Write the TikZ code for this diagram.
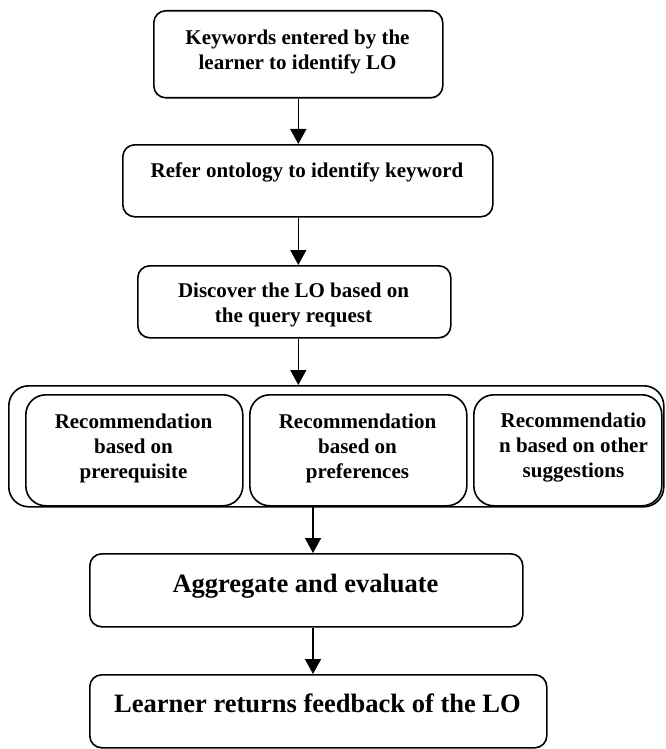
\documentclass[tikz,border=0pt]{standalone}
\usepackage{fontspec}
\setmainfont{Liberation Serif}
\usetikzlibrary{arrows.meta,calc}
\begin{document}
\begin{tikzpicture}[x=1pt,y=-1pt,
  box/.style={draw,fill=white,line width=1.6pt,rounded corners=12pt,rectangle,anchor=north west,inner sep=0pt},
  rbox/.style={box,rounded corners=20pt},
  txt/.style={font=\bfseries\fontsize{21}{25}\selectfont,align=center,inner sep=0pt},
  bigtxt/.style={font=\bfseries\fontsize{26.5}{31}\selectfont,align=center,inner sep=0pt},
  arr/.style={line width=1.6pt,-{Triangle[length=15pt,width=16pt]}}]
\useasboundingbox (0,0) rectangle (665,749);
\clip (0,0) rectangle (665,749);
\fill[white] (0,0) rectangle (665,749);
% boxes
\node[box,minimum width=289pt,minimum height=87pt] (A) at (153,10) {};
\node[txt] (At) at (297.5,52) {Keywords entered by the\\learner to identify LO};
\node[box,minimum width=370pt,minimum height=72pt] (B) at (122,144) {};
\node[txt,anchor=base] (Bt) at (307,177) {Refer ontology to identify keyword};
\node[box,minimum width=313pt,minimum height=72pt] (C) at (137,265) {};
\node[txt] (Ct) at (293.5,304.5) {Discover the LO based on\\the query request};
\node[rbox,minimum width=655pt,minimum height=121pt] (K) at (8,385) {};
\node[rbox,minimum width=217pt,minimum height=111pt] (R1) at (25,394) {};
\node[txt] (R1t) at (133.5,448) {Recommendation\\based on\\prerequisite};
\node[rbox,minimum width=217pt,minimum height=111pt] (R2) at (249,394) {};
\node[txt] (R2t) at (357.5,448) {Recommendation\\based on\\preferences};
\node[rbox,minimum width=188pt,minimum height=111pt] (R3) at (473,394) {};
\node[txt] (R3t) at (573.5,448) {Recommendatio\\n based on other\\suggestions};
\node[box,minimum width=433pt,minimum height=73pt] (D) at (89,553) {};
\node[bigtxt,anchor=base] (Dt) at (305.5,592) {Aggregate and evaluate};
\node[box,minimum width=457pt,minimum height=73pt] (E) at (89,674) {};
\node[bigtxt,anchor=base] (Et) at (317.5,712) {Learner returns feedback of the LO};
% connectors
\coordinate (ax) at (313,0);
\draw[arr] (A.south) -- (A.south |- B.north);
\draw[arr] (A.south |- B.south) -- (A.south |- C.north);
\draw[arr] (A.south |- C.south) -- (A.south |- K.north);
\draw[arr] (ax |- R2.south) -- (ax |- D.north);
\draw[arr] (ax |- D.south) -- (ax |- E.north);
\end{tikzpicture}
\end{document}
